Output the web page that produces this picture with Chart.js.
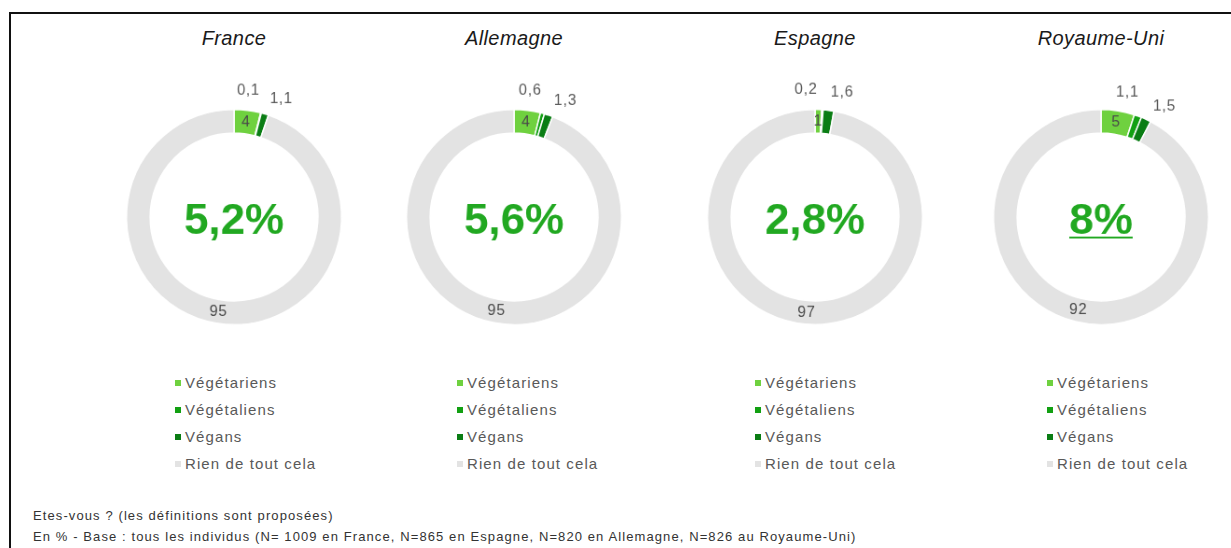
<!DOCTYPE html>
<html>
<head>
<meta charset="utf-8">
<script src="https://cdn.jsdelivr.net/npm/chart.js@4.4.1/dist/chart.umd.min.js"></script>
<style>
  body { margin: 0; background: #fff; font-family: "Liberation Sans", Arial, sans-serif; }
  #page { position: relative; width: 1231px; height: 548px; overflow: hidden; }
  #frame { position: absolute; left: 9px; top: 12px; width: 1300px; height: 600px;
           border-left: 2px solid #111; border-top: 2px solid #111; }
  .title { position: absolute; top: 26px; width: 280px; text-align: center;
           font-style: italic; font-size: 20px; line-height: 24px; color: #1a1a1a; letter-spacing: 0.4px; }
  .donut { position: absolute; top: 77px; width: 280px; height: 280px; }
  .legend { position: absolute; top: 369px; font-size: 15px; line-height: 27px; color: #595959; letter-spacing: 1.1px; }
  .legend i { display: inline-block; width: 6px; height: 6px; margin-right: 4px; vertical-align: 2px; }
  .note { position: absolute; left: 33px; top: 505px; font-size: 13px; line-height: 21px; color: #333; letter-spacing: 1.1px; }
</style>
</head>
<body>
<div id="page">
  <div id="frame"></div>
  <div id="charts"></div>
  <div class="note">
    Etes-vous ? (les définitions sont proposées)<br>
    En % - Base : tous les individus (N= 1009 en France, N=865 en Espagne, N=820 en Allemagne, N=826 au Royaume-Uni)
  </div>
</div>
<script>
const countries = ['France', 'Allemagne', 'Espagne', 'Royaume-Uni'];
const categories = ['Végétariens', 'Végétaliens', 'Végans', 'Rien de tout cela'];
const vegetariens = [4, 4, 1, 5];
const vegetaliens = [0.1, 0.6, 0.2, 1.1];
const vegans = [1.1, 1.3, 1.6, 1.5];
const rien = [95, 95, 97, 92];
const totals = ['5,2%', '5,6%', '2,8%', '8%'];

const colors = ['#6fd13f', '#12a012', '#0a7d14', '#e3e3e3'];
const centersX = [234, 514, 815, 1101];
const legendX = [175, 457, 755, 1047];

// small labels (Végétaliens / Végans) are drawn outside the ring, pushed apart
const valueLabels = {
    id: 'valueLabels',
    afterDatasetsDraw(chart) {
        const {ctx} = chart;
        const meta = chart.getDatasetMeta(0);
        const values = chart.data.datasets[0].data;
        ctx.save();
        ctx.font = '16px "Liberation Sans", Arial, sans-serif';
        ctx.letterSpacing = '0.8px';
        ctx.textAlign = 'center';
        ctx.textBaseline = 'middle';
        meta.data.forEach((arc, i) => {
            const txt = String(values[i]).replace('.', ',');
            let x, y;
            if (i === 1 || i === 2) {
                const mid = (arc.startAngle + arc.endAngle) / 2 + (i === 1 ? -0.14 : 0.09);
                const r = arc.outerRadius + 21;
                x = arc.x + Math.cos(mid) * r;
                y = arc.y + Math.sin(mid) * r;
                ctx.fillStyle = '#595959';
            } else {
                ({x, y} = arc.tooltipPosition());
                ctx.fillStyle = '#4a4a4a';
            }
            ctx.fillText(txt, x, y);
        });
        ctx.restore();
    }
};

const centerTotal = {
    id: 'centerTotal',
    afterDraw(chart, args, opts) {
        const {ctx} = chart;
        const arc = chart.getDatasetMeta(0).data[0];
        if (!arc) return;
        ctx.save();
        ctx.font = 'bold 47px "Liberation Sans", Arial, sans-serif';
        ctx.fillStyle = '#21a821';
        ctx.textAlign = 'center';
        ctx.textBaseline = 'alphabetic';
        const baseY = arc.y + 18;
        ctx.fillText(opts.text, arc.x, baseY);
        if (opts.underline) {
            const w = ctx.measureText(opts.text).width;
            ctx.fillRect(arc.x - w / 2, baseY + 3, w, 2);
        }
        ctx.restore();
    }
};

const holder = document.getElementById('charts');

countries.forEach((country, c) => {
    const title = document.createElement('div');
    title.className = 'title';
    title.style.left = (centersX[c] - 140) + 'px';
    title.textContent = country;
    holder.appendChild(title);

    const box = document.createElement('div');
    box.className = 'donut';
    box.style.left = (centersX[c] - 140) + 'px';
    const canvas = document.createElement('canvas');
    box.appendChild(canvas);
    holder.appendChild(box);

    const legend = document.createElement('div');
    legend.className = 'legend';
    legend.style.left = legendX[c] + 'px';
    legend.innerHTML = categories.map((cat, i) =>
        `<div><i style="background:${colors[i]}"></i>${cat}</div>`
    ).join('');
    holder.appendChild(legend);

    new Chart(canvas, {
        type: 'doughnut',
        data: {
            labels: categories,
            datasets: [{
                data: [vegetariens[c], vegetaliens[c], vegans[c], rien[c]],
                backgroundColor: colors,
                borderColor: '#ffffff',
                borderWidth: 1.5
            }]
        },
        options: {
            responsive: false,
            animation: false,
            events: [],
            cutout: '78%',
            layout: {padding: 34},
            plugins: {
                legend: {display: false},
                tooltip: {enabled: false},
                centerTotal: {text: totals[c], underline: c === 3}
            }
        },
        plugins: [valueLabels, centerTotal]
    });
    canvas.style.width = '280px';
    canvas.style.height = '280px';
});
</script>
</body>
</html>
